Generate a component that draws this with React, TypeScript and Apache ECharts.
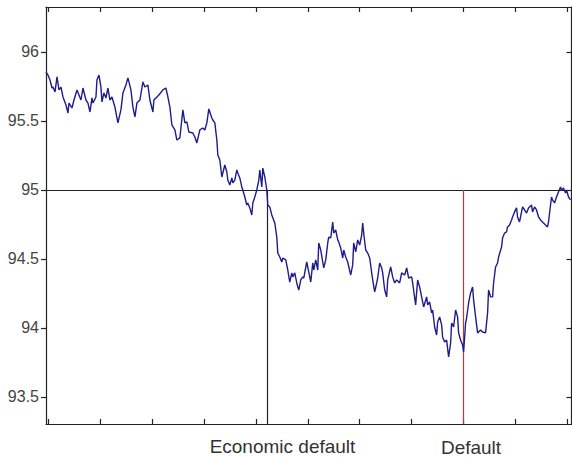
import React, { useEffect, useRef } from "react";
import * as echarts from "echarts";

// Trading day index (from left edge of plot) and price
const days: number[] = [
  0, 2, 4, 6, 7, 9, 11, 13, 15, 17, 20, 22, 23, 26, 28, 31, 33, 35, 37, 40, 42, 44, 46, 47, 50, 51, 53, 55, 56, 58,
  60, 62, 64, 66, 69, 72, 75, 77, 80, 82, 85, 87, 89, 91, 94, 97, 99, 102, 104, 107, 108, 111, 113, 117, 120, 122, 124, 126, 129, 131,
  134, 137, 139, 141, 143, 147, 149, 151, 154, 157, 159, 161, 163, 166, 167, 169, 171, 172, 174, 176, 177, 179, 181, 182, 184, 186, 187, 189, 191, 192,
  194, 196, 197, 199, 201, 202, 204, 206, 207, 209, 211, 213, 214, 216, 217, 219, 221, 222, 224, 226, 229, 231, 232, 234, 236, 237, 240, 242, 244, 246,
  247, 249, 251, 253,
  255, 257, 258, 261, 263, 265, 267, 268, 270, 272, 273, 275, 277, 278, 280, 282, 283, 285, 287, 288, 290, 292, 293, 295, 297, 298, 300, 302, 305, 307,
  308, 310, 312, 314, 316, 317, 318, 320, 322, 324, 326, 327, 329, 331, 332,
  334, 336, 337, 339, 341, 342, 345, 347, 349, 351, 354, 356, 359, 361, 363, 366, 367, 370, 372, 374, 376, 378, 381, 382, 384, 386, 387, 389, 391, 392,
  394, 396, 397, 399, 401, 403, 405, 406, 408, 410, 412, 413, 415, 417, 418, 420, 421, 423, 425, 427, 428, 430, 432, 433, 435, 437, 440, 442, 443, 445,
  447, 448, 450, 452, 453, 456, 457, 459, 461, 462, 464, 466, 467, 469, 471, 472, 474, 476, 477, 479, 481, 483, 486, 487, 489, 491, 493, 495, 497, 500,
  502, 503, 505, 506, 507, 509, 511, 513, 515, 516, 518, 520, 521, 523, 525,
];

const prices: number[] = [
  95.855, 95.833, 95.797, 95.739, 95.746, 95.71, 95.819, 95.725, 95.746, 95.674, 95.616, 95.558, 95.63, 95.594, 95.652, 95.725, 95.688, 95.652, 95.739, 95.652,
  95.63, 95.565, 95.667, 95.63, 95.674, 95.797, 95.833, 95.746, 95.638, 95.703,
  95.667, 95.739, 95.652, 95.674, 95.601, 95.486, 95.58, 95.703, 95.761, 95.812, 95.725, 95.601, 95.529, 95.63, 95.652, 95.783, 95.746, 95.761, 95.652, 95.565,
  95.652, 95.674, 95.688, 95.725, 95.739, 95.674, 95.601, 95.471, 95.435, 95.362,
  95.377, 95.58, 95.486, 95.493, 95.42, 95.413, 95.384, 95.341, 95.435, 95.449, 95.435, 95.486, 95.587, 95.522, 95.507, 95.486, 95.362, 95.254, 95.217, 95.094,
  95.123, 95.181, 95.13, 95.072, 95.036, 95.087, 95.051, 95.072, 95.145, 95.123,
  95.087, 95.022, 95.0, 94.949, 94.891, 94.906, 94.87, 94.819, 94.906, 94.949, 95.0, 95.072, 95.145, 95.022, 95.159, 95.094, 95.0, 94.891, 94.877, 94.819,
  94.761, 94.659, 94.543, 94.514, 94.478, 94.507, 94.493, 94.42, 94.333, 94.399,
  94.37, 94.399, 94.326, 94.275,
  94.348, 94.37, 94.362, 94.478, 94.406, 94.333, 94.471, 94.42, 94.493, 94.42, 94.616, 94.565, 94.478, 94.435, 94.493, 94.616, 94.659, 94.652, 94.768, 94.688,
  94.71, 94.638, 94.623, 94.58, 94.507, 94.565, 94.514, 94.478, 94.384, 94.457,
  94.616, 94.551, 94.638, 94.601, 94.674, 94.761, 94.688, 94.565, 94.543, 94.507, 94.399, 94.348, 94.261, 94.326, 94.362,
  94.471, 94.435, 94.399, 94.275, 94.225, 94.348, 94.442, 94.37, 94.326, 94.348, 94.326, 94.399, 94.384, 94.435, 94.362, 94.37, 94.326, 94.167, 94.348, 94.297,
  94.225, 94.152, 94.225, 94.167, 94.188, 94.109, 94.13, 94.007, 93.949, 94.043,
  94.08, 94.022, 93.935, 93.899, 93.913, 93.79, 93.891, 94.036, 94.007, 94.13, 94.08, 93.964, 93.913, 93.877, 93.826, 94.036, 94.072, 94.181, 94.254, 94.297,
  94.203, 94.08, 93.964, 93.971, 93.986, 93.971, 93.964, 94.109, 94.275, 94.225,
  94.225, 94.326, 94.442, 94.471, 94.514, 94.587, 94.652, 94.688, 94.696, 94.732, 94.746, 94.783, 94.804, 94.841, 94.87, 94.804, 94.768, 94.841, 94.877, 94.855,
  94.833, 94.87, 94.891, 94.841, 94.877, 94.855, 94.804, 94.783, 94.768, 94.746,
  94.732, 94.768, 94.891, 94.949, 94.928, 94.906, 94.949, 94.986, 95.022, 95.0, 95.014, 94.978, 95.0, 94.949, 94.928,
];

const yTickValues: number[] = [93.5, 94, 94.5, 95, 95.5, 96];
const xTickValues: number[] = [2, 54, 106, 158, 210, 262, 314, 366, 418, 470, 522];
const thresholdPrice = 95;
const economicDefaultDay = 221;
const defaultDay = 418;
const labels = { economic: "Economic default", def: "Default" };

const X_MIN = 0;
const X_MAX = 526;
const Y_MIN = 93.304;
const Y_MAX = 96.326;

export default function App() {
  const ref = useRef<HTMLDivElement>(null);

  useEffect(() => {
    if (!ref.current) return;
    const chart = echarts.init(ref.current, undefined, { renderer: "svg" });
    const axisColor = "#222";
    const font = "'Liberation Sans', Arial, sans-serif";

    const baseX = {
      type: "value" as const,
      min: X_MIN,
      max: X_MAX,
      axisLine: { show: true, onZero: false, lineStyle: { color: axisColor, width: 1.2 } },
      axisTick: { show: true, inside: true, length: 5, customValues: xTickValues, lineStyle: { color: axisColor, width: 1.2 } },
      axisLabel: { show: false },
      splitLine: { show: false },
    };

    chart.setOption({
      animation: false,
      backgroundColor: "#ffffff",
      grid: { left: 46, right: 0.5, top: 7, bottom: 33, containLabel: false },
      xAxis: [
        { ...baseX, position: "bottom" },
        { ...baseX, position: "top" },
      ],
      yAxis: [
        {
          type: "value",
          position: "left",
          min: Y_MIN,
          max: Y_MAX,
          axisLine: { show: true, onZero: false, lineStyle: { color: axisColor, width: 1.2 } },
          axisTick: { show: true, inside: false, length: 5, customValues: yTickValues, lineStyle: { color: axisColor, width: 1.2 } },
          axisLabel: {
            show: true,
            customValues: yTickValues,
            margin: 7,
            color: "#444",
            fontSize: 16,
            fontFamily: font,
            formatter: (v: number) => String(v),
          },
          splitLine: { show: false },
        },
        {
          type: "value",
          position: "right",
          min: Y_MIN,
          max: Y_MAX,
          axisLine: { show: true, onZero: false, lineStyle: { color: axisColor, width: 1.2 } },
          axisTick: { show: true, inside: true, length: 5, customValues: yTickValues, lineStyle: { color: axisColor, width: 1.2 } },
          axisLabel: { show: false },
          splitLine: { show: false },
        },
      ],
      series: [
        {
          type: "line",
          xAxisIndex: 0,
          yAxisIndex: 0,
          data: days.map((d, i) => [d, prices[i]]),
          showSymbol: false,
          symbol: "none",
          lineStyle: { color: "#1c1c8c", width: 1.4 },
          z: 3,
          markLine: {
            silent: true,
            symbol: "none",
            label: { show: false },
            z: 2,
            data: [
              [
                { coord: [X_MIN, thresholdPrice], lineStyle: { color: "#222", width: 1.2, type: "solid" } },
                { coord: [X_MAX, thresholdPrice] },
              ],
              [
                { coord: [economicDefaultDay, thresholdPrice], lineStyle: { color: "#222", width: 1.2, type: "solid" } },
                { coord: [economicDefaultDay, Y_MIN] },
              ],
              [
                { coord: [defaultDay, thresholdPrice], lineStyle: { color: "#b83a3a", width: 1.2, type: "solid" } },
                { coord: [defaultDay, Y_MIN] },
              ],
            ],
          },
        },
      ],
      graphic: [
        {
          type: "text",
          x: 282.5,
          y: 446,
          style: {
            text: labels.economic,
            fill: "#333",
            font: `19px ${font}`,
            textAlign: "center",
            textVerticalAlign: "middle",
          },
        },
        {
          type: "text",
          x: 471,
          y: 447.5,
          style: {
            text: labels.def,
            fill: "#333",
            font: `19px ${font}`,
            textAlign: "center",
            textVerticalAlign: "middle",
          },
        },
      ],
    });

    return () => chart.dispose();
  }, []);

  return (
    <div
      ref={ref}
      style={{ position: "fixed", left: 0, top: 0, width: 572, height: 457, background: "#fff" }}
    />
  );
}
